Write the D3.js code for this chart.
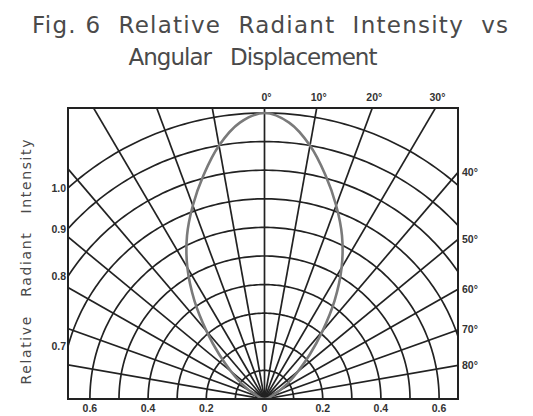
<!DOCTYPE html>
<html>
<head>
<meta charset="utf-8">
<script src="https://cdn.jsdelivr.net/npm/d3@7/dist/d3.min.js"></script>
<style>
body { margin: 0; background: #fff; }
svg { display: block; }
text.title { white-space: pre; }
</style>
</head>
<body>
<svg id="svg"></svg>
<script>
// Chart texts
var titleLines = ["Fig. 6  Relative  Radiant  Intensity  vs", "Angular   Displacement"];
var yTitle = "Relative   Radiant   Intensity";

// Grid values
var radialAngles = [-90, -80, -70, -60, -50, -40, -30, -20, -10, 0, 10, 20, 30, 40, 50, 60, 70, 80, 90];
var ringValues = [0.1, 0.2, 0.3, 0.4, 0.5, 0.6, 0.7, 0.8, 0.9, 1.0];
var topAngleLabels = [0, 10, 20, 30];
var sideAngleLabels = [40, 50, 60, 70, 80];
var intensityLabels = [1.0, 0.9, 0.8, 0.7];
var bottomTicks = [-0.6, -0.4, -0.2, 0, 0.2, 0.4, 0.6];

// Radiation pattern (one side, mirrored)
var patternAngles = [0, 5, 10, 15, 20, 25, 30, 35, 40, 45, 50, 55, 60, 70, 80, 90];
var patternValues = [1.0, 0.97, 0.90, 0.81, 0.72, 0.63, 0.53, 0.42, 0.31, 0.22, 0.15, 0.10, 0.06, 0.02, 0.01, 0];

// Layout
var width = 533;
var height = 416;
var box = {left: 68, right: 458, top: 108, bottom: 399};
var cx = 264.5;

var gridColor = "#222";
var gridWidth = 1.7;
var patternColor = "#7a7a7a";
var textColor = "#333";

var svg = d3.select("#svg")
	.attr("width", width)
	.attr("height", height);

var xScale = d3.scaleLinear().domain([-1, 1]).range([cx - 291, cx + 291]);
var yScale = d3.scaleLinear().domain([0, 1]).range([box.bottom, 113]);

function pt(angle, r) {
	var a = angle * Math.PI / 180;
	return [xScale(r * Math.sin(a)), yScale(r * Math.cos(a))];
}

// where a radial line leaves the box
function edgeHit(angle) {
	var a = angle * Math.PI / 180;
	var rTop = yScale.invert(box.top) / Math.cos(a);
	var rSide = Math.sin(a) > 0 ? xScale.invert(box.right) / Math.sin(a) : Infinity;
	var r = Math.min(rTop, rSide);
	return {edge: rTop < rSide ? "top" : "side", p: pt(angle, r)};
}

svg.append("defs").append("clipPath")
	.attr("id", "boxclip")
	.append("rect")
	.attr("x", box.left)
	.attr("y", box.top)
	.attr("width", box.right - box.left)
	.attr("height", box.bottom - box.top);

var g = svg.append("g").attr("clip-path", "url(#boxclip)");

var line = d3.line();

// rings
g.selectAll(".ring")
	.data(ringValues)
	.enter()
	.append("path")
	.attr("class", "ring")
	.attr("fill", "none")
	.attr("stroke", gridColor)
	.attr("stroke-width", gridWidth)
	.attr("d", function(v) {
		return line(d3.range(-90, 90.5, 1).map(function(a) { return pt(a, v); }));
	});

// spokes
g.selectAll(".spoke")
	.data(radialAngles)
	.enter()
	.append("path")
	.attr("class", "spoke")
	.attr("stroke", gridColor)
	.attr("stroke-width", gridWidth)
	.attr("d", function(a) { return line([pt(a, 0), pt(a, 1.6)]); });

// pattern
var patternPts = [];
for (var i = patternAngles.length - 1; i > 0; i--) patternPts.push(pt(-patternAngles[i], patternValues[i]));
for (var j = 0; j < patternAngles.length; j++) patternPts.push(pt(patternAngles[j], patternValues[j]));

g.append("path")
	.attr("fill", "none")
	.attr("stroke", patternColor)
	.attr("stroke-width", 2.6)
	.attr("d", d3.line().curve(d3.curveCatmullRom)(patternPts));

// frame
svg.append("rect")
	.attr("x", box.left)
	.attr("y", box.top)
	.attr("width", box.right - box.left)
	.attr("height", box.bottom - box.top)
	.attr("fill", "none")
	.attr("stroke", gridColor)
	.attr("stroke-width", 2);

var labelFont = "'Liberation Sans', Arial, sans-serif";

// angle labels on top
svg.selectAll(".toplab")
	.data(topAngleLabels)
	.enter()
	.append("text")
	.attr("x", function(a) { return edgeHit(a).p[0] + 2; })
	.attr("y", box.top - 7)
	.attr("text-anchor", "middle")
	.attr("font-family", labelFont)
	.attr("font-size", 10.5)
	.attr("font-weight", "bold")
	.attr("fill", textColor)
	.text(function(a) { return a + "°"; });

// angle labels on right side
svg.selectAll(".sidelab")
	.data(sideAngleLabels)
	.enter()
	.append("text")
	.attr("x", box.right + 4)
	.attr("y", function(a) { return edgeHit(a).p[1]; })
	.attr("dy", "0.35em")
	.attr("font-family", labelFont)
	.attr("font-size", 10.5)
	.attr("font-weight", "bold")
	.attr("fill", textColor)
	.text(function(a) { return a + "°"; });

// intensity labels where rings meet left edge
var uLeft = xScale.invert(box.left);
svg.selectAll(".intlab")
	.data(intensityLabels)
	.enter()
	.append("text")
	.attr("x", box.left - 2)
	.attr("y", function(v) { return yScale(Math.sqrt(v * v - uLeft * uLeft)); })
	.attr("dy", "0.35em")
	.attr("text-anchor", "end")
	.attr("font-family", labelFont)
	.attr("font-size", 10.5)
	.attr("font-weight", "bold")
	.attr("fill", textColor)
	.text(function(v) { return v.toFixed(1); });

// bottom scale
svg.selectAll(".botlab")
	.data(bottomTicks)
	.enter()
	.append("text")
	.attr("x", function(v) { return xScale(v); })
	.attr("y", box.bottom + 13)
	.attr("text-anchor", "middle")
	.attr("font-family", labelFont)
	.attr("font-size", 10.5)
	.attr("font-weight", "bold")
	.attr("fill", textColor)
	.text(function(v) { return v === 0 ? "0" : Math.abs(v).toFixed(1); });

// titles
var titleFont = "'DejaVu Sans', sans-serif";
svg.append("text")
	.attr("class", "title")
	.attr("x", 270)
	.attr("y", 33)
	.attr("text-anchor", "middle")
	.attr("font-family", titleFont)
	.attr("font-size", 23)
	.attr("fill", "#4a4a4a")
	.attr("textLength", 476)
	.attr("lengthAdjust", "spacing")
	.text(titleLines[0]);

svg.append("text")
	.attr("class", "title")
	.attr("x", 253)
	.attr("y", 65)
	.attr("text-anchor", "middle")
	.attr("font-family", titleFont)
	.attr("font-size", 23)
	.attr("fill", "#4a4a4a")
	.attr("textLength", 249)
	.attr("lengthAdjust", "spacing")
	.text(titleLines[1]);

svg.append("text")
	.attr("class", "title")
	.attr("transform", "translate(31,262) rotate(-90)")
	.attr("text-anchor", "middle")
	.attr("font-family", titleFont)
	.attr("font-size", 14)
	.attr("fill", "#4a4a4a")
	.attr("textLength", 245)
	.attr("lengthAdjust", "spacing")
	.text(yTitle);
</script>
</body>
</html>
